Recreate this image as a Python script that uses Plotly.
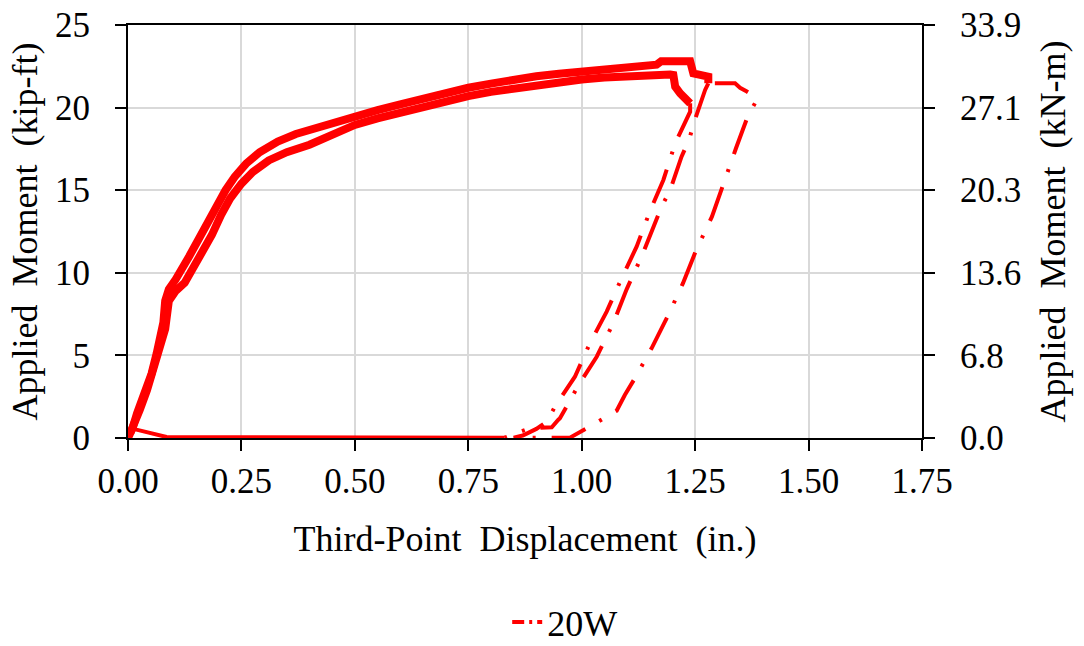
import plotly.graph_objects as go

# ---------------- data ----------------
# first loading branch (upper / left band)
load1_disp = [0.000, 0.010, 0.020, 0.030, 0.040, 0.052, 0.063, 0.072, 0.078, 0.082, 0.090, 0.105,
              0.118, 0.135, 0.155, 0.175, 0.195, 0.215, 0.235, 0.260, 0.290, 0.330, 0.370, 0.400,
              0.450, 0.500, 0.550, 0.600, 0.650, 0.700, 0.750, 0.800, 0.850, 0.900, 0.950, 1.000,
              1.050, 1.100, 1.140, 1.165, 1.175, 1.239, 1.246, 1.279, 1.279]
load1_moment = [0.00, 0.60, 1.50, 2.20, 2.90, 3.90, 5.10, 6.10, 7.00, 8.30, 9.00, 9.60,
                10.30, 11.00, 12.00, 13.00, 14.10, 15.00, 15.80, 16.60, 17.30, 17.95, 18.40, 18.65,
                19.10, 19.50, 19.85, 20.20, 20.55, 20.90, 21.20, 21.45, 21.70, 21.90, 22.05, 22.20,
                22.30, 22.40, 22.50, 22.60, 22.80, 22.80, 22.07, 21.87, 21.47]

# first unloading branch (right inner line)
unload1_disp = [1.279, 1.272, 1.248, 1.237, 1.220, 1.195, 1.176, 1.162, 1.132, 1.115, 1.099,
                1.070, 1.051, 1.033, 0.993, 0.973, 0.952, 0.948, 0.934, 0.886, 0.830]
unload1_moment = [21.47, 21.07, 19.15, 18.08, 17.03, 15.01, 14.00, 13.00, 10.98, 9.97, 9.00,
                  6.98, 5.97, 4.92, 3.20, 2.16, 1.19, 1.09, 0.65, 0.59, 0.02]

# return along the base line
return_disp = [0.830, 0.600, 0.300, 0.085, 0.012, 0.005]
return_moment = [0.02, 0.03, 0.04, 0.06, 0.55, 0.30]

# second loading branch (lower / right band)
load2_disp = [0.005, 0.015, 0.026, 0.042, 0.055, 0.066, 0.076, 0.082, 0.090, 0.105, 0.125, 0.145,
              0.165, 0.185, 0.205, 0.225, 0.250, 0.275, 0.310, 0.350, 0.400, 0.450, 0.500, 0.550,
              0.600, 0.650, 0.700, 0.750, 0.800, 0.850, 0.900, 0.950, 1.000, 1.050, 1.100, 1.140,
              1.165, 1.195, 1.202, 1.206, 1.217, 1.235, 1.239]
load2_moment = [0.30, 0.90, 1.70, 2.90, 4.00, 5.10, 6.10, 6.60, 8.30, 8.90, 9.40, 10.30,
                11.20, 12.30, 13.50, 14.50, 15.40, 16.10, 16.80, 17.30, 17.75, 18.40, 18.95, 19.35,
                19.70, 20.05, 20.40, 20.70, 20.95, 21.15, 21.35, 21.55, 21.70, 21.82, 21.92, 22.00,
                22.05, 22.00, 21.97, 21.27, 20.86, 20.46, 20.26]

# second unloading, final reloading and last plateau
unload2_disp = [1.239, 1.239, 1.206, 1.193, 1.180, 1.150, 1.136, 1.121, 1.088, 1.072, 1.055,
                1.018, 1.002, 0.985, 0.941, 0.923, 0.900, 0.870, 0.850, 0.974,
                1.011, 1.077, 1.095, 1.117, 1.154, 1.173, 1.191, 1.223, 1.239, 1.253, 1.287,
                1.300, 1.316, 1.340, 1.354, 1.367, 1.386, 1.382, 1.364, 1.349, 1.338, 1.279]
unload2_moment = [20.26, 19.75, 17.84, 16.73, 15.62, 13.70, 12.65, 11.58, 9.67, 8.66, 7.65,
                  5.73, 4.72, 3.71, 1.90, 0.99, 0.55, 0.15, 0.02, 0.02,
                  0.59, 1.65, 2.60, 3.61, 5.43, 6.43, 7.45, 9.36, 10.41, 11.42, 13.40,
                  14.45, 15.62, 17.54, 18.58, 19.55, 20.46, 20.66, 20.97, 21.20, 21.47, 21.47]

series_name = "20W"
kipft_ticks = [0, 5, 10, 15, 20, 25]
KIPFT_TO_KNM = 1.35582

# ---------------- figure ----------------
RED = "#ff0000"
FONT = "Liberation Serif"
DASHDOT = "36px,16px,3px,16px"

fig = go.Figure()
common = dict(mode="lines", showlegend=False, hoverinfo="skip", legendgroup="g")
fig.add_trace(go.Scatter(x=load1_disp, y=load1_moment, line=dict(color=RED, width=8), **common))
fig.add_trace(go.Scatter(x=unload1_disp, y=unload1_moment,
                         line=dict(color=RED, width=4, dash=DASHDOT), **common))
fig.add_trace(go.Scatter(x=return_disp, y=return_moment, line=dict(color=RED, width=4), **common))
fig.add_trace(go.Scatter(x=load2_disp, y=load2_moment, line=dict(color=RED, width=8), **common))
fig.add_trace(go.Scatter(x=unload2_disp, y=unload2_moment,
                         line=dict(color=RED, width=4, dash=DASHDOT), **common))
# legend entry
fig.add_trace(go.Scatter(x=[None], y=[None], mode="lines", name=series_name, legendgroup="g",
                         line=dict(color=RED, width=4, dash="12px,5px,3px,5px")))
# secondary (kN-m) axis carrier
fig.add_trace(go.Scatter(x=load1_disp, y=[m * KIPFT_TO_KNM for m in load1_moment], yaxis="y2",
                         mode="lines", line=dict(width=0, color="rgba(0,0,0,0)"),
                         showlegend=False, hoverinfo="skip"))

tick_font = dict(family=FONT, size=35, color="black")
title_font = dict(family=FONT, size=36, color="black")
axis_common = dict(showline=True, linecolor="black", linewidth=2,
                   ticks="outside", ticklen=11, tickwidth=2, tickcolor="black",
                   tickfont=tick_font, zeroline=False, automargin=False,
                   ticklabeloverflow="allow")
fig.update_layout(
    width=1084, height=646,
    paper_bgcolor="white", plot_bgcolor="white",
    margin=dict(l=128, r=162, t=25, b=208, autoexpand=False),
    font=dict(family=FONT, size=35, color="black"),
    xaxis=dict(range=[0, 1.75], dtick=0.25, tick0=0, tickformat=".2f",
               showgrid=True, gridcolor="#d9d9d9", gridwidth=2, mirror=True,
               ticklabelstandoff=0,
               title=dict(text="Third-Point\u00a0 Displacement\u00a0 (in.)", font=title_font, standoff=26),
               **axis_common),
    yaxis=dict(range=[0, 25], tickvals=kipft_ticks,
               showgrid=True, gridcolor="#d9d9d9", gridwidth=2,
               ticklabelstandoff=18,
               title=dict(text="Applied\u00a0 Moment\u00a0 (kip-ft)", font=title_font, standoff=6),
               **axis_common),
    yaxis2=dict(range=[0, 25 * KIPFT_TO_KNM], overlaying="y", side="right",
                tickvals=[t * KIPFT_TO_KNM for t in kipft_ticks], tickformat=".1f",
                showgrid=False, ticklabelstandoff=18,
                title=dict(text="Applied\u00a0 Moment\u00a0 (kN-m)", font=title_font, standoff=20),
                **axis_common),
    legend=dict(orientation="h", x=0.55, xanchor="center", y=-0.446, yanchor="middle",
                font=dict(family=FONT, size=36, color="black"), bgcolor="rgba(0,0,0,0)"),
)

fig.write_html("out.html", config={"displayModeBar": False},
               post_script="document.body.style.margin='0';")
